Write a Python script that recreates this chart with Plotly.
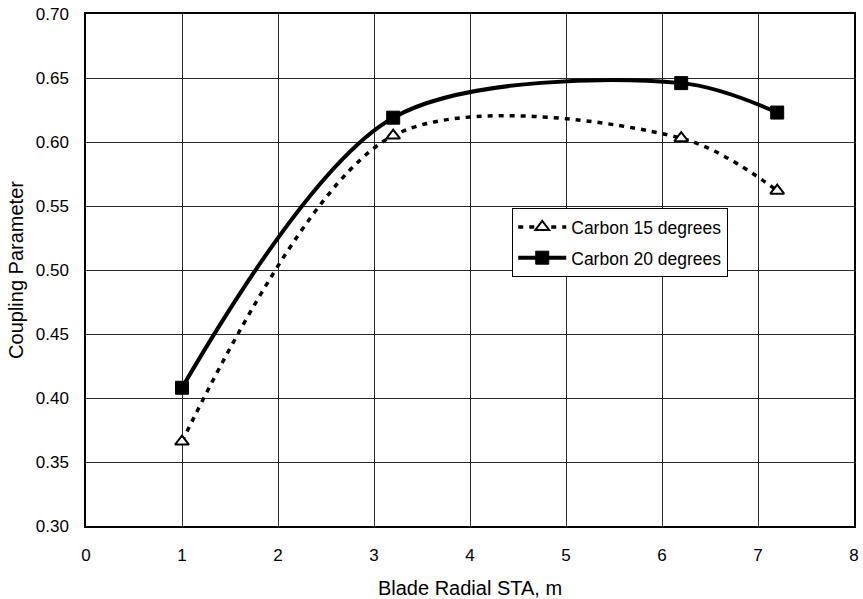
import plotly.graph_objects as go

# Radial stations along the blade (m)
stations = [1.0, 3.2, 6.2, 7.2]

# Coupling parameter for each layup angle
carbon_15 = [0.366, 0.605, 0.603, 0.562]
carbon_20 = [0.408, 0.619, 0.646, 0.623]

series_names = ["Carbon 15 degrees", "Carbon 20 degrees"]

FONT = "Liberation Sans, Arial, sans-serif"

fig = go.Figure()

fig.add_trace(go.Scatter(
    x=stations, y=carbon_15, name=series_names[0], legendgroup="c15",
    mode="lines+markers",
    line=dict(color="black", width=3.5, dash="5px,6px", shape="spline", smoothing=0.9),
    marker=dict(symbol="triangle-up", size=12, color="white",
                line=dict(color="black", width=2)),
))

fig.add_trace(go.Scatter(
    x=stations, y=carbon_20, name=series_names[1], legendgroup="c20",
    mode="lines+markers",
    line=dict(color="black", width=4, shape="spline", smoothing=0.9),
    marker=dict(symbol="square", size=13, color="black",
                line=dict(color="black", width=1)),
))

fig.update_layout(
    width=863, height=599,
    margin=dict(l=86, r=9, t=14, b=73),
    paper_bgcolor="white", plot_bgcolor="white",
    font=dict(family=FONT, size=17, color="black"),
    legend=dict(
        x=0.555, y=0.621, xanchor="left", yanchor="top",
        bgcolor="white", bordercolor="black", borderwidth=1,
        font=dict(size=17.5), tracegroupgap=5, itemwidth=48,
    ),
    showlegend=True,
)

fig.update_xaxes(
    range=[0, 8], dtick=1, tick0=0, automargin=False,
    showgrid=True, gridcolor="#2a2a2a", gridwidth=1,
    showline=True, linecolor="black", linewidth=1.5, mirror=True,
    ticks="", ticklabelstandoff=13, zeroline=False,
    title=dict(text="Blade Radial STA, m", standoff=20),
)

fig.update_yaxes(
    range=[0.30, 0.70], dtick=0.05, tick0=0.30, tickformat=".2f", automargin=False,
    showgrid=True, gridcolor="#2a2a2a", gridwidth=1,
    showline=True, linecolor="black", linewidth=1.5, mirror=True,
    ticks="", ticklabelstandoff=12, zeroline=False,
    title=dict(text="Coupling Parameter", standoff=7),
)

fig.write_html("out.html")
